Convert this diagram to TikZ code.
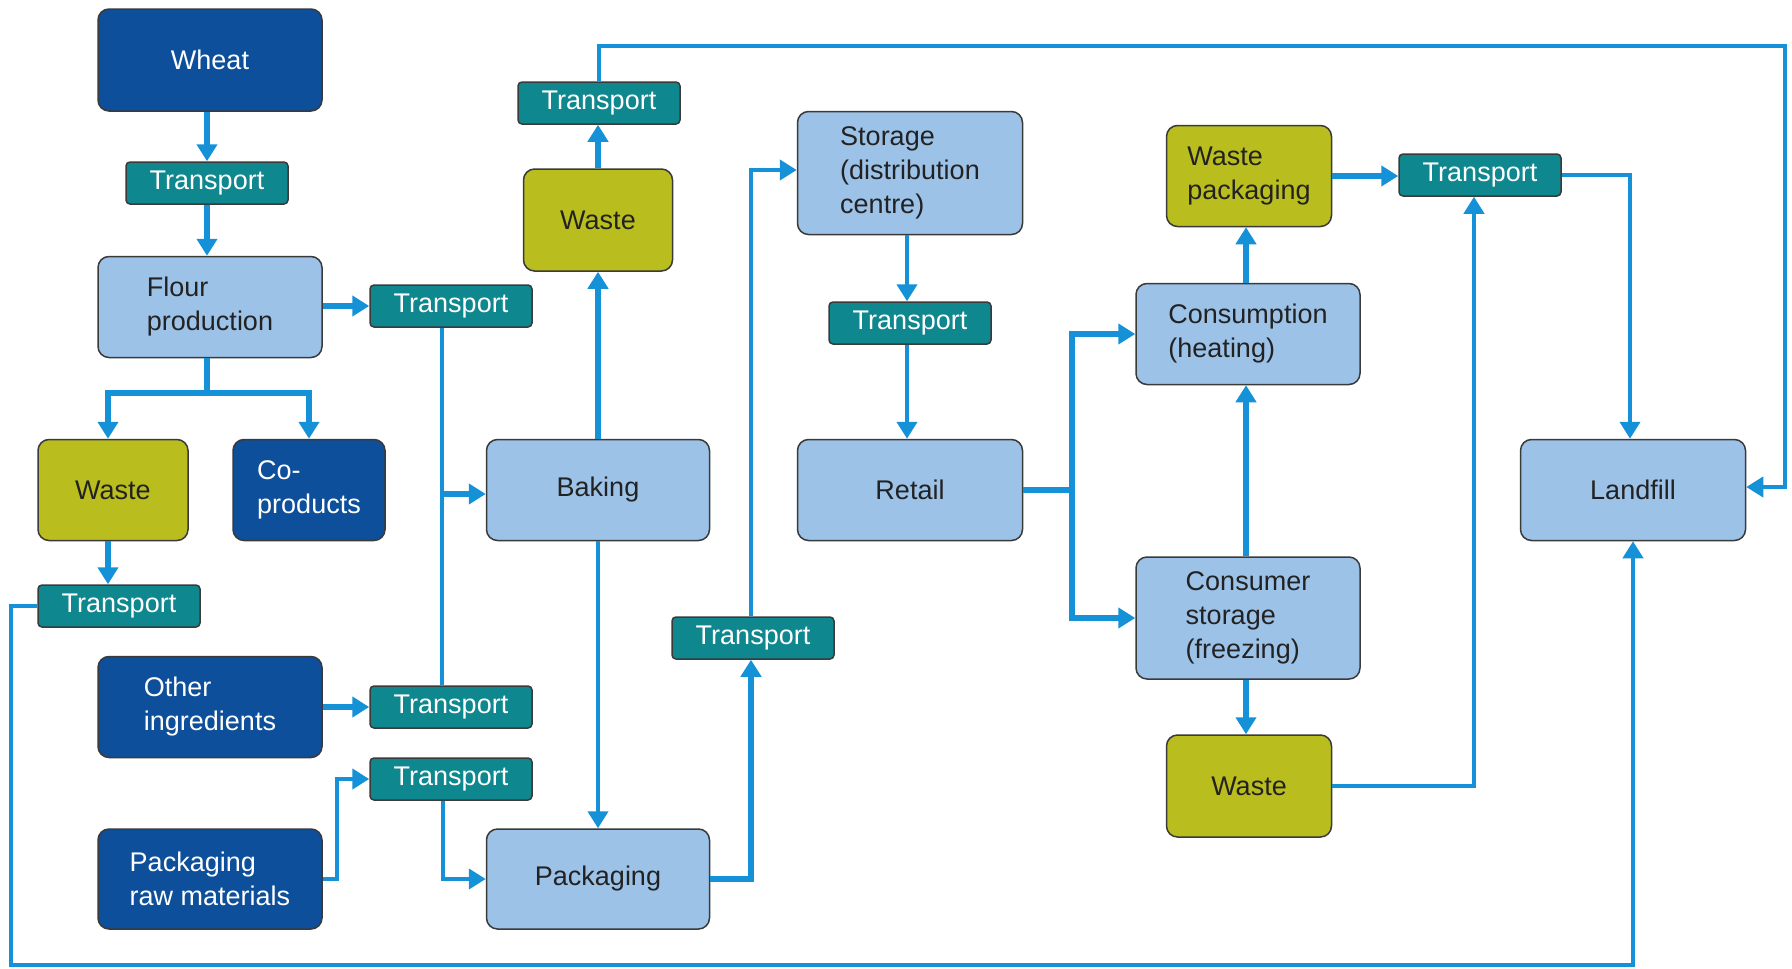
\documentclass[tikz,border=0pt]{standalone}
\usepackage{fontspec}
\setmainfont{Liberation Sans}
\usetikzlibrary{arrows.meta}
\definecolor{darkbox}{HTML}{0D4F9A}
\definecolor{lightbox}{HTML}{9CC2E8}
\definecolor{transbox}{HTML}{0F878E}
\definecolor{olivebox}{HTML}{BABD1E}
\definecolor{linecol}{HTML}{1591D8}
\definecolor{textdark}{HTML}{222222}
\definecolor{edgecol}{HTML}{3A3A3A}
\tikzset{
  box/.style={rounded corners=11pt, draw=edgecol, line width=1.5pt, align=left, inner sep=0pt,
    font=\fontsize{27}{34}\selectfont},
  darkb/.style={box, fill=darkbox, text=white},
  lightb/.style={box, fill=lightbox, text=textdark},
  wasteb/.style={box, fill=olivebox, text=textdark},
  trans/.style={rounded corners=4pt, draw=edgecol, line width=1.5pt, fill=transbox, text=white,
    minimum width=162pt, minimum height=42pt, inner sep=0pt, font=\fontsize{27}{34}\selectfont},
  tip/.style={-{Triangle[length=17pt,width=20pt]}},
  thickconn/.style={draw=linecol, line width=6pt, tip},
  medconn/.style={draw=linecol, line width=4.5pt, tip},
  thinconn/.style={draw=linecol, line width=4pt, tip},
  thickline/.style={draw=linecol, line width=6pt},
  thinline/.style={draw=linecol, line width=4pt},
}
\begin{document}
\begin{tikzpicture}[x=1pt,y=-1pt]
\useasboundingbox (0,0) rectangle (1792,969);
% nodes
\node[darkb, minimum width=224pt, minimum height=102pt] (wheat) at (210,60) {Wheat};
\node[trans] (t1) at (207,183) {Transport};
\node[lightb, minimum width=224pt, minimum height=101pt] (flour) at (210,307) {Flour\\production};
\node[trans] (t2) at (451,306) {Transport};
\node[wasteb, minimum width=150pt, minimum height=101pt] (wasteL) at (113,490) {Waste};
\node[darkb, minimum width=152pt, minimum height=101pt] (coprod) at (309,490) {Co-\\products};
\node[trans] (t3) at (119,606) {Transport};
\node[darkb, minimum width=224pt, minimum height=101pt] (other) at (210,707) {Other\\ingredients};
\node[trans] (t4) at (451,707) {Transport};
\node[trans] (t5) at (451,779) {Transport};
\node[darkb, minimum width=224pt, minimum height=100pt] (packraw) at (210,879) {Packaging\\raw materials};
\node[lightb, minimum width=223pt, minimum height=101pt] (baking) at (598,490) {Baking};
\node[lightb, minimum width=223pt, minimum height=100pt] (packaging) at (598,879) {Packaging};
\node[wasteb, minimum width=149pt, minimum height=102pt] (wastetop) at (598,220) {Waste};
\node[trans] (ttop) at (599,103) {Transport};
\node[trans] (tpack) at (753,638) {Transport};
\node[lightb, minimum width=225pt, minimum height=123pt] (storage) at (910,173) {Storage\\(distribution\\centre)};
\node[trans] (tstor) at (910,323) {Transport};
\node[lightb, minimum width=225pt, minimum height=101pt] (retail) at (910,490) {Retail};
\node[wasteb, minimum width=165pt, minimum height=101pt] (wastepack) at (1249,176) {Waste\\packaging};
\node[trans] (tright) at (1480,175) {Transport};
\node[lightb, minimum width=224pt, minimum height=101pt] (consumption) at (1248,334) {Consumption\\(heating)};
\node[lightb, minimum width=224pt, minimum height=122pt] (consstor) at (1248,618) {Consumer\\storage\\(freezing)};
\node[wasteb, minimum width=165pt, minimum height=102pt] (wastebr) at (1249,786) {Waste};
\node[lightb, minimum width=225pt, minimum height=101pt] (landfill) at (1633,490) {Landfill};
% helper coordinates
\coordinate (fb) at (207,393);
\coordinate (tb) at (442,494);
\coordinate (bl) at (11,965);
\coordinate (tr) at (1785,46);
\coordinate (rb) at (1072,490);
% connectors
\draw[thickconn] (t1.north |- wheat.south) -- (t1.north);
\draw[thickconn] (t1.south) -- (t1.south |- flour.north);
\draw[thickconn] (flour.east |- t2) -- (t2.west);
\draw[thickline] (flour.south -| fb) -- (fb);
\draw[thickconn] (fb) -| ([xshift=-5pt]wasteL.north);
\draw[thickconn] (fb) -| (coprod.north);
\draw[thickconn] ([xshift=-5pt]wasteL.south) -- ([xshift=-5pt]wasteL.south |- t3.north);
\draw[thinconn] (t3.west) -| (bl) -| (landfill.south);
\draw[thinline] ([xshift=-9pt]t2.south) -- ([xshift=-9pt]t4.north);
\draw[thickconn] (tb) -- (tb -| baking.west);
\draw[thickconn] (other.east |- t4) -- (t4.west);
\draw[medconn] (packraw.east) -- ++(14,0) |- (t5.west);
\draw[medconn] ([xshift=-8pt]t5.south) |- (packaging.west);
\draw[thickconn] (baking.north) -- (baking.north |- wastetop.south);
\draw[thickconn] (baking.north |- wastetop.north) -- (baking.north |- ttop.south);
\draw[thinconn] (ttop.north) |- (tr) |- ([yshift=3pt]landfill.east);
\draw[thinconn] (baking.south) -- (packaging.north);
\draw[thickconn] (packaging.east) -| ([xshift=-2pt]tpack.south);
\draw[medconn] ([xshift=-2pt]tpack.north) |- ([yshift=3pt]storage.west);
\draw[medconn] ([xshift=-3pt]storage.south) -- ([xshift=-3pt]storage.south |- tstor.north);
\draw[medconn] ([xshift=-3pt]storage.south |- tstor.south) -- ([xshift=-3pt]retail.north);
\draw[thickline] (retail.east) -- (retail.east -| rb);
\draw[thickconn] (rb) |- (consumption.west);
\draw[thickconn] (rb) |- (consstor.west);
\draw[thickconn] ([xshift=-2pt]consstor.north) -- ([xshift=-2pt]consumption.south);
\draw[thickconn] ([xshift=-2pt]consumption.north) -- ([xshift=-2pt]consumption.north |- wastepack.south);
\draw[thickconn] (wastepack.east) -- (wastepack.east -| tright.west);
\draw[thinconn] (tright.east) -| ([xshift=-3pt]landfill.north);
\draw[thickconn] ([xshift=-2pt]consstor.south) -- ([xshift=-2pt]consstor.south |- wastebr.north);
\draw[thinconn] (wastebr.east) -| ([xshift=-6pt]tright.south);
\end{tikzpicture}
\end{document}
